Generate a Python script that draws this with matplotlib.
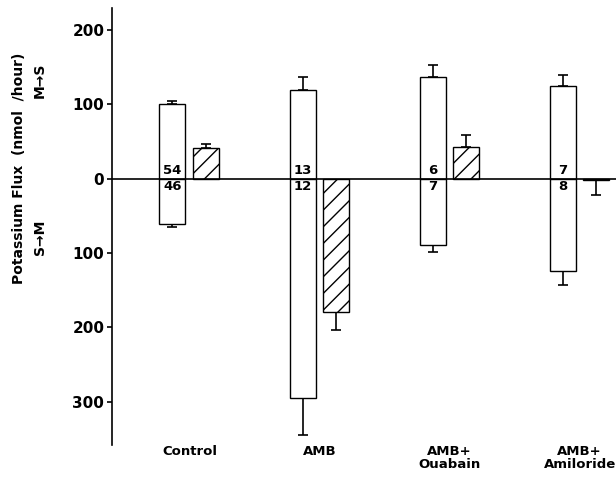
import matplotlib
matplotlib.use('Agg')
import matplotlib.pyplot as plt
import matplotlib.transforms as mtransforms
import numpy as np

plt.rcParams['font.family'] = ['DejaVu Sans']
plt.rcParams['font.weight'] = 'bold'
plt.rcParams['hatch.linewidth'] = 1.0

# Daten
categories = ['Control', 'AMB', 'AMB+\nOuabain', 'AMB+\nAmiloride']
ms_flux = [100, 119, 137, 124]      # M -> S
ms_err = [4, 18, 15, 15]
sm_flux = [61, 295, 89, 124]        # S -> M (nach unten)
sm_err = [4, 49, 10, 19]
net_flux = [41, -179, 42, -2]       # Nettofluss (schraffiert)
net_err = [6, 24, 16, 20]
n_ms = ['54', '13', '6', '7']
n_sm = ['46', '12', '7', '8']
ytick_values = [200, 100, 0, -100, -200, -300]
ytick_labels = ['200', '100', '0', '100', '200', '300']

fig = plt.figure(figsize=(6.16, 4.78), dpi=100)
ax = fig.add_axes([0.1818, 0.069, 0.8182, 0.914])

x = np.arange(len(categories))
bar_width = 0.2
offset = 0.26
lw = 1.0

sm_neg = [-v for v in sm_flux]
ax.bar(x, ms_flux, width=bar_width, color='white', edgecolor='black', linewidth=lw, zorder=2)
ax.bar(x, sm_neg, width=bar_width, color='white', edgecolor='black', linewidth=lw, zorder=2)
ax.bar(x + offset, net_flux, width=bar_width, color='white', edgecolor='black',
       hatch='//', linewidth=lw, zorder=2)

# Fehlerbalken nur nach aussen
ax.errorbar(x, ms_flux, yerr=[[0] * 4, ms_err], fmt='none', ecolor='black',
            elinewidth=1.2, capsize=3.3, capthick=1.2, zorder=1)
ax.errorbar(x, sm_neg, yerr=[sm_err, [0] * 4], fmt='none', ecolor='black',
            elinewidth=1.2, capsize=3.3, capthick=1.2, zorder=1)
net_lo = [e if v < 0 else 0 for v, e in zip(net_flux, net_err)]
net_hi = [e if v >= 0 else 0 for v, e in zip(net_flux, net_err)]
ax.errorbar(x + offset, net_flux, yerr=[net_lo, net_hi], fmt='none', ecolor='black',
            elinewidth=1.2, capsize=3.3, capthick=1.2, zorder=1)

# Anzahl der Versuche
for i in range(len(categories)):
    ax.text(x[i], 11, n_ms[i], ha='center', va='center', fontsize=9.5, zorder=3)
    ax.text(x[i], -11, n_sm[i], ha='center', va='center', fontsize=9.5, zorder=3)

ax.axhline(0, color='black', linewidth=1.2, zorder=3)

ax.set_xlim(-0.465, 3.41)
ax.set_ylim(-358, 229)
ax.set_yticks(ytick_values)
ax.set_yticklabels(ytick_labels, fontsize=11)
ax.tick_params(axis='y', direction='out', length=3.5, width=1.2, pad=2)
ax.set_xticks([])
for s in ['top', 'right', 'bottom']:
    ax.spines[s].set_visible(False)
ax.spines['left'].set_linewidth(1.2)

# Kategoriebeschriftungen unter der Achse
trans = mtransforms.blended_transform_factory(ax.transData, fig.transFigure)
for i, lab in enumerate(categories):
    ax.text(x[i] + offset / 2, 1 - 445 / 478, lab, transform=trans, ha='center', va='top',
            fontsize=9.5, linespacing=1.05, clip_on=False)

# Achsenbeschriftung
fig.text(19 / 616, 1 - 168 / 478, 'Potassium Flux  (nmol  /hour)', rotation=90,
         ha='center', va='center', fontsize=10)
fig.text(40 / 616, 1 - 80 / 478, 'M\u2192S', rotation=90, ha='center', va='center', fontsize=10)
fig.text(40 / 616, 1 - 237 / 478, 'S\u2192M', rotation=90, ha='center', va='center', fontsize=10)

fig.savefig('out.png', dpi=100)
